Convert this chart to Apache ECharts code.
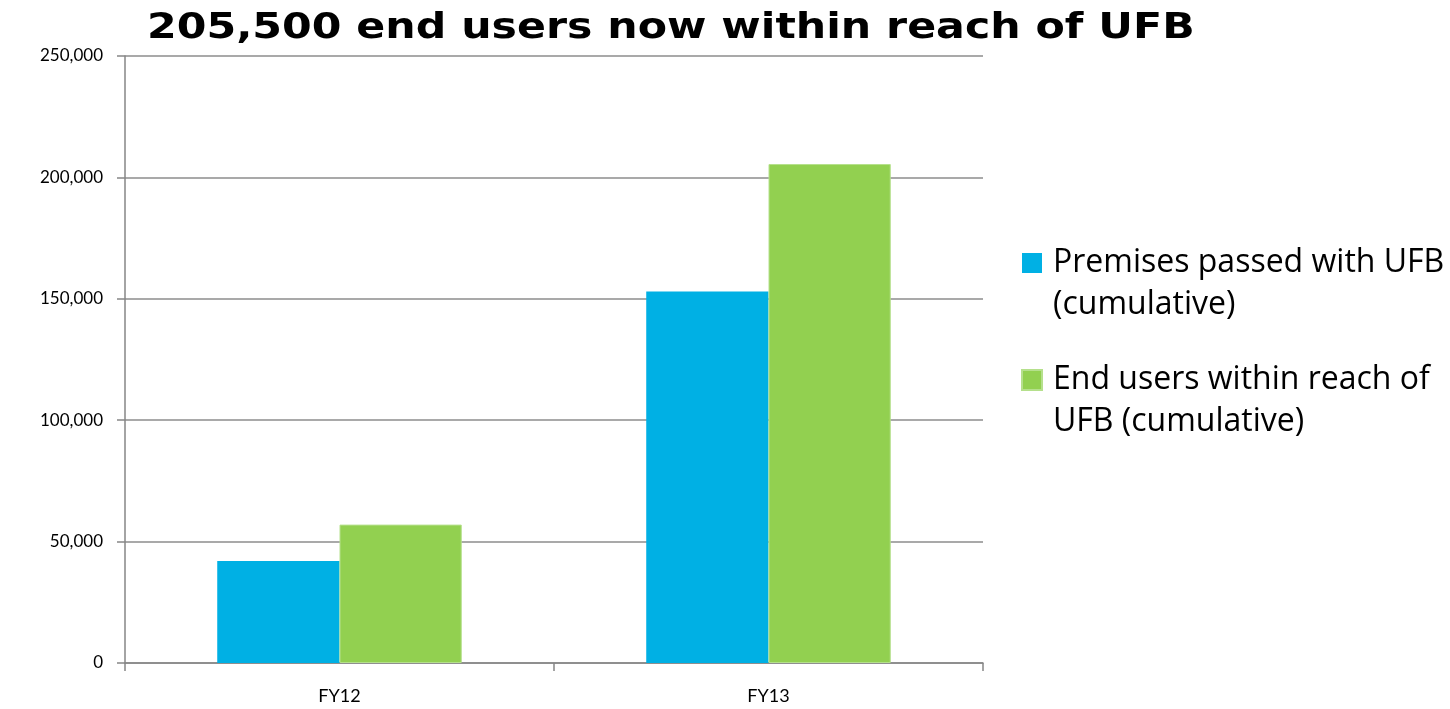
<!DOCTYPE html>
<html>
<head>
<meta charset="utf-8">
<script src="https://cdn.jsdelivr.net/npm/echarts@6/dist/echarts.min.js"></script>
<style>
  html, body { margin: 0; padding: 0; background: #ffffff; }
  #chart { width: 1450px; height: 709px; }
</style>
</head>
<body>
<div id="chart"></div>
<script>
// Fiscal years shown on the category axis
const categories = ['FY12', 'FY13'];
// Cumulative counts per fiscal year
const premisesPassed = [42000, 153000];
const endUsersInReach = [57000, 205500];
// Series names shown in the legend
const seriesNames = ['Premises passed with UFB\n(cumulative)', 'End users within reach of\nUFB (cumulative)'];
const titleText = '205,500 end users now within reach of UFB';

const chart = echarts.init(document.getElementById('chart'));

const axisGray = '#868686';
const gridGray = '#8c8c8c';
const bodyFont = 'Lato, "Open Sans", sans-serif';

chart.setOption({
  animation: false,
  backgroundColor: '#ffffff',
  // Headline drawn as a widened bold text element
  graphic: [{
    type: 'text',
    x: 147,
    y: 11,
    scaleX: 1.22,
    style: {
      text: titleText,
      fontFamily: '"DejaVu Sans", sans-serif',
      fontWeight: 'bold',
      fontSize: 35,
      fill: '#000000',
      verticalAlign: 'top'
    }
  }],
  legend: {
    orient: 'vertical',
    left: 1021,
    top: 200,
    padding: 0,
    itemWidth: 20,
    itemHeight: 20,
    itemGap: -9,
    icon: 'rect',
    // a spacer line on top puts the swatch beside the first text line
    formatter: function (name) {
      return ['{t| }'].concat(name.split('\n').map(function (l) { return '{t|' + l + '}'; })).join('\n');
    },
    textStyle: {
      fontFamily: '"Open Sans", sans-serif',
      fontSize: 32,
      lineHeight: 42,
      color: '#000000',
      rich: {
        t: {
          fontFamily: '"Open Sans", sans-serif',
          fontSize: 32,
          lineHeight: 42,
          color: '#000000',
          padding: [0, 0, 0, 6]
        }
      }
    },
    data: seriesNames
  },
  grid: {
    left: 125,
    right: 467,
    top: 56,
    bottom: 46,
    containLabel: false
  },
  xAxis: {
    type: 'category',
    data: categories,
    axisLine: { lineStyle: { color: axisGray, width: 1.5 } },
    axisTick: { show: true, length: 8, lineStyle: { color: axisGray, width: 1.5 } },
    axisLabel: {
      fontFamily: bodyFont,
      fontSize: 18,
      color: '#000000',
      margin: 24
    }
  },
  yAxis: {
    type: 'value',
    min: 0,
    max: 250000,
    interval: 50000,
    axisLine: { show: true, lineStyle: { color: axisGray, width: 1.5 } },
    axisTick: { show: true, length: 8, lineStyle: { color: axisGray, width: 1.5 } },
    axisLabel: {
      fontFamily: bodyFont,
      fontSize: 17,
      color: '#000000',
      margin: 22,
      formatter: function (v) { return v.toLocaleString('en-US'); }
    },
    splitLine: { lineStyle: { color: gridGray, width: 1.5 } }
  },
  series: [
    {
      name: seriesNames[0],
      type: 'bar',
      data: premisesPassed,
      barGap: '0%',
      barCategoryGap: '43%',
      itemStyle: { color: '#00b0e4' }
    },
    {
      name: seriesNames[1],
      type: 'bar',
      data: endUsersInReach,
      itemStyle: { color: '#92d050', borderColor: '#b5e08c', borderWidth: 1 }
    }
  ]
});
</script>
</body>
</html>
